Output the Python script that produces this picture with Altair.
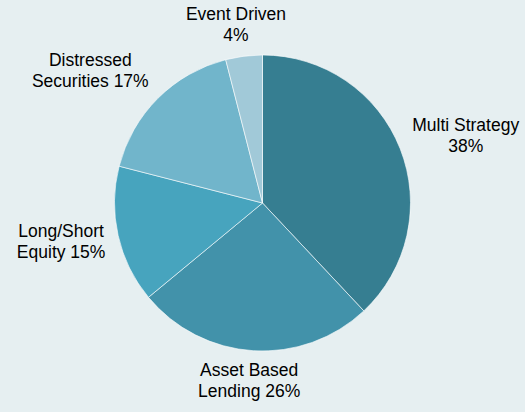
import math
import altair as alt
import pandas as pd

categories = ["Multi Strategy", "Asset Based Lending", "Long/Short Equity",
              "Distressed Securities", "Event Driven"]
values = [38, 26, 15, 17, 4]
label_lines = [["Multi Strategy", "38%"], ["Asset Based", "Lending 26%"],
               ["Long/Short", "Equity 15%"], ["Distressed", "Securities 17%"],
               ["Event Driven", "4%"]]
colors = ["#367E91", "#4292AA", "#47A4BE", "#71B5CB", "#A1C9D8"]

R = 148
GAP = 13
FONT_SIZE = 17.5
LINE_H = 21
BOX_HALF_H = 18

# approximate Arial advance widths (per 1000 em) to estimate label box widths
ARIAL = {" ": 278, "%": 889, "/": 278, "A": 667, "B": 667, "D": 722, "E": 667,
         "L": 556, "M": 833, "S": 667, "a": 556, "b": 556, "c": 500, "d": 556,
         "e": 556, "g": 556, "h": 556, "i": 222, "l": 222, "n": 556, "o": 556,
         "q": 556, "r": 333, "s": 500, "t": 278, "u": 556, "v": 500, "y": 500}


def text_width(s):
    return sum(ARIAL.get(ch, 556) for ch in s) / 1000 * FONT_SIZE


# Excel-like outside-end placement: the label box is anchored at a point on its
# perimeter that follows the slice's mid angle, just outside the pie.
total = sum(values)
cum = 0
lab_theta, lab_r = [], []
for v, lines in zip(values, label_lines):
    mid = (cum + v / 2) / total * 2 * math.pi
    cum += v
    s, c = math.sin(mid), math.cos(mid)
    half_w = max(text_width(t) for t in lines) / 2
    m = max(abs(s), abs(c))
    ux, uy = s / m, c / m          # x right, y up
    px, py = (R + GAP) * s, (R + GAP) * c
    bx, by = px + ux * half_w, py + uy * BOX_HALF_H
    # Vega draws the first line at the anchor: lift so the block is centred
    by += (len(lines) - 1) * LINE_H / 2
    lab_theta.append(math.atan2(bx, by) % (2 * math.pi))
    lab_r.append(math.hypot(bx, by))

df = pd.DataFrame({
    "category": categories,
    "value": values,
    "order": list(range(len(categories))),
    "label": ["\n".join(l) for l in label_lines],
    "lab_theta": lab_theta,
    "lab_r": lab_r,
})

pie = alt.Chart(df).mark_arc(outerRadius=R, stroke="#ffffff", strokeWidth=0.6).encode(
    theta=alt.Theta("value:Q", stack=True),
    order=alt.Order("order:Q"),
    color=alt.Color("category:N", scale=alt.Scale(domain=categories, range=colors),
                    legend=None),
)

labels = alt.Chart(df).mark_text(
    font="Liberation Sans", fontSize=FONT_SIZE, lineBreak="\n", lineHeight=LINE_H,
    align="center", baseline="middle", color="#000000"
).encode(
    theta=alt.Theta("lab_theta:Q", stack=None, scale=None),
    radius=alt.Radius("lab_r:Q", scale=None),
    text="label:N",
)

chart = (pie + labels).resolve_scale(theta="independent").properties(
    width=525, height=406,
    autosize=alt.AutoSizeParams(type="none"),
    padding={"top": 0, "bottom": 6, "left": 0, "right": 0},
    background="#E6EFF1",
).configure_view(stroke=None)

chart.save("out.html", embed_options={"renderer": "svg", "actions": False})
